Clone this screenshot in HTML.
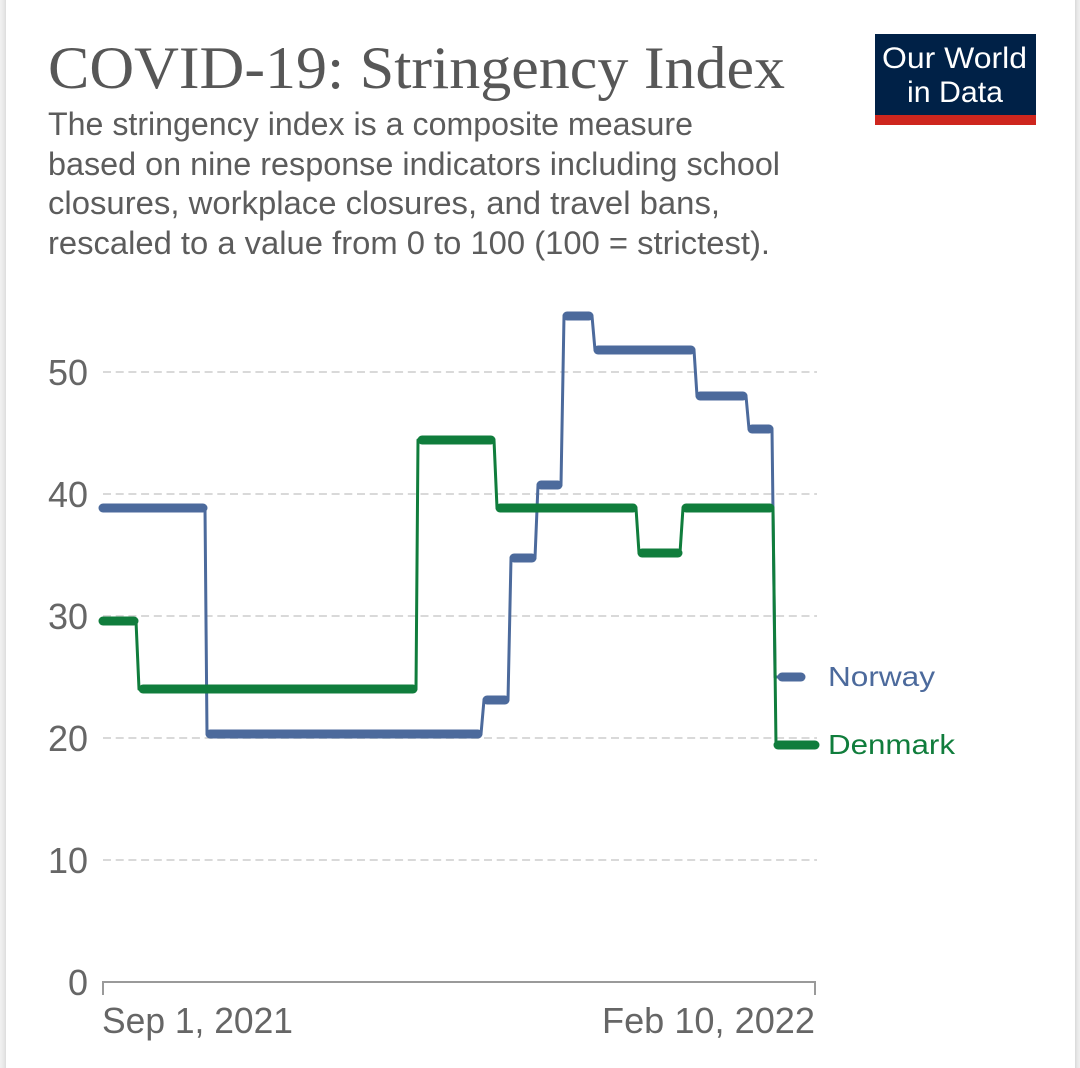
<!DOCTYPE html>
<html>
<head>
<meta charset="utf-8">
<style>
  html, body { margin: 0; padding: 0; background: #ffffff; }
  body { width: 1080px; height: 1068px; overflow: hidden; }
  svg { display: block; }
  .sans { font-family: "Liberation Sans", "DejaVu Sans", sans-serif; }
  .serif { font-family: "Liberation Serif", "DejaVu Serif", serif; }
</style>
</head>
<body>
<svg width="1080" height="1068" viewBox="0 0 1080 1068" xmlns="http://www.w3.org/2000/svg">
  <defs>
    <linearGradient id="lb" x1="0" x2="1" y1="0" y2="0">
      <stop offset="0" stop-color="#f2f2f2"/>
      <stop offset="0.7" stop-color="#e6e6e6"/>
      <stop offset="1" stop-color="#dcdcdc"/>
    </linearGradient>
    <linearGradient id="rb" x1="0" x2="1" y1="0" y2="0">
      <stop offset="0" stop-color="#d8d8d8"/>
      <stop offset="0.4" stop-color="#e6e6e6"/>
      <stop offset="1" stop-color="#f0f0f0"/>
    </linearGradient>
  </defs>
  <rect x="0" y="0" width="1080" height="1068" fill="#ffffff"/>
  <!-- side borders -->
  <rect x="0" y="0" width="6" height="1068" fill="url(#lb)"/>
  <rect x="1075" y="0" width="5" height="1068" fill="url(#rb)"/>

  <!-- Title -->
  <text class="serif" x="48" y="88" font-size="60" fill="#575757" textLength="737" lengthAdjust="spacingAndGlyphs">COVID-19: Stringency Index</text>

  <!-- Subtitle -->
  <g class="sans" font-size="32" fill="#5c5c5c">
    <text x="48" y="135" textLength="645" lengthAdjust="spacingAndGlyphs">The stringency index is a composite measure</text>
    <text x="48" y="175" textLength="732" lengthAdjust="spacingAndGlyphs">based on nine response indicators including school</text>
    <text x="48" y="214" textLength="672" lengthAdjust="spacingAndGlyphs">closures, workplace closures, and travel bans,</text>
    <text x="48" y="254" textLength="722" lengthAdjust="spacingAndGlyphs">rescaled to a value from 0 to 100 (100 = strictest).</text>
  </g>

  <!-- Logo -->
  <rect x="875" y="34" width="161" height="81" fill="#002147"/>
  <rect x="875" y="115" width="161" height="10" fill="#ce261e"/>
  <g class="sans" font-size="30" fill="#ffffff">
    <text x="882" y="68" textLength="145" lengthAdjust="spacingAndGlyphs">Our World</text>
    <text x="907" y="102" textLength="96" lengthAdjust="spacingAndGlyphs">in Data</text>
  </g>

  <!-- Gridlines -->
  <g stroke="#d9d9d9" stroke-width="2" stroke-dasharray="8,4.7">
    <line x1="103" y1="372" x2="817" y2="372"/>
    <line x1="103" y1="494" x2="817" y2="494"/>
    <line x1="103" y1="616" x2="817" y2="616"/>
    <line x1="103" y1="738" x2="817" y2="738"/>
    <line x1="103" y1="860" x2="817" y2="860"/>
  </g>

  <!-- Axis -->
  <g stroke="#9a9a9a" stroke-width="2" fill="none">
    <line x1="102" y1="982" x2="816" y2="982"/>
    <line x1="103" y1="982" x2="103" y2="995"/>
    <line x1="815" y1="982" x2="815" y2="995"/>
  </g>

  <!-- Y labels -->
  <g class="sans" font-size="36" fill="#666666" text-anchor="end">
    <text x="88" y="385">50</text>
    <text x="88" y="507">40</text>
    <text x="88" y="629">30</text>
    <text x="88" y="751">20</text>
    <text x="88" y="873">10</text>
    <text x="88" y="995">0</text>
  </g>

  <!-- X labels -->
  <g class="sans" font-size="36" fill="#666666">
    <text x="102" y="1033" textLength="191" lengthAdjust="spacingAndGlyphs">Sep 1, 2021</text>
    <text x="602" y="1033" textLength="213" lengthAdjust="spacingAndGlyphs">Feb 10, 2022</text>
  </g>

  <!-- Norway -->
  <g stroke="#4c6a9c" fill="none" stroke-linecap="round" stroke-linejoin="round">
    <polyline stroke-width="3" points="103,508 205,508 207,734 481,734 484,700 508,700 511,558 535,558 538,485 561,485 564,316 592,316 595,350 694,350 697,396 746,396 749,429 772,429 775,677 802,677"/>
    <g stroke-width="9">
      <line x1="103" y1="508" x2="203" y2="508"/>
      <line x1="210" y1="734" x2="478" y2="734"/>
      <line x1="487" y1="700" x2="505" y2="700"/>
      <line x1="514" y1="558" x2="532" y2="558"/>
      <line x1="541" y1="485" x2="558" y2="485"/>
      <line x1="567" y1="316" x2="589" y2="316"/>
      <line x1="598" y1="350" x2="691" y2="350"/>
      <line x1="700" y1="396" x2="743" y2="396"/>
      <line x1="752" y1="429" x2="769" y2="429"/>
      <line x1="782" y1="677" x2="801" y2="677"/>
    </g>
  </g>

  <!-- Denmark -->
  <g stroke="#107d3c" fill="none" stroke-linecap="round" stroke-linejoin="round">
    <polyline stroke-width="3" points="103,621 136,621 139,689 416,689 418,440 494,440 497,508 636,508 639,553 680,553 683,508 773,508 776,745 815,745"/>
    <g stroke-width="9">
      <line x1="103" y1="621" x2="134" y2="621"/>
      <line x1="143" y1="689" x2="413" y2="689"/>
      <line x1="422" y1="440" x2="491" y2="440"/>
      <line x1="500" y1="508" x2="633" y2="508"/>
      <line x1="642" y1="553" x2="678" y2="553"/>
      <line x1="686" y1="508" x2="770" y2="508"/>
      <line x1="778" y1="745" x2="815" y2="745"/>
    </g>
  </g>

  <!-- Legend labels -->
  <g class="sans" font-size="28">
    <text x="828" y="686" fill="#4c6a9c" textLength="107" lengthAdjust="spacingAndGlyphs">Norway</text>
    <text x="828" y="754" fill="#107d3c" textLength="127" lengthAdjust="spacingAndGlyphs">Denmark</text>
  </g>
</svg>
</body>
</html>
